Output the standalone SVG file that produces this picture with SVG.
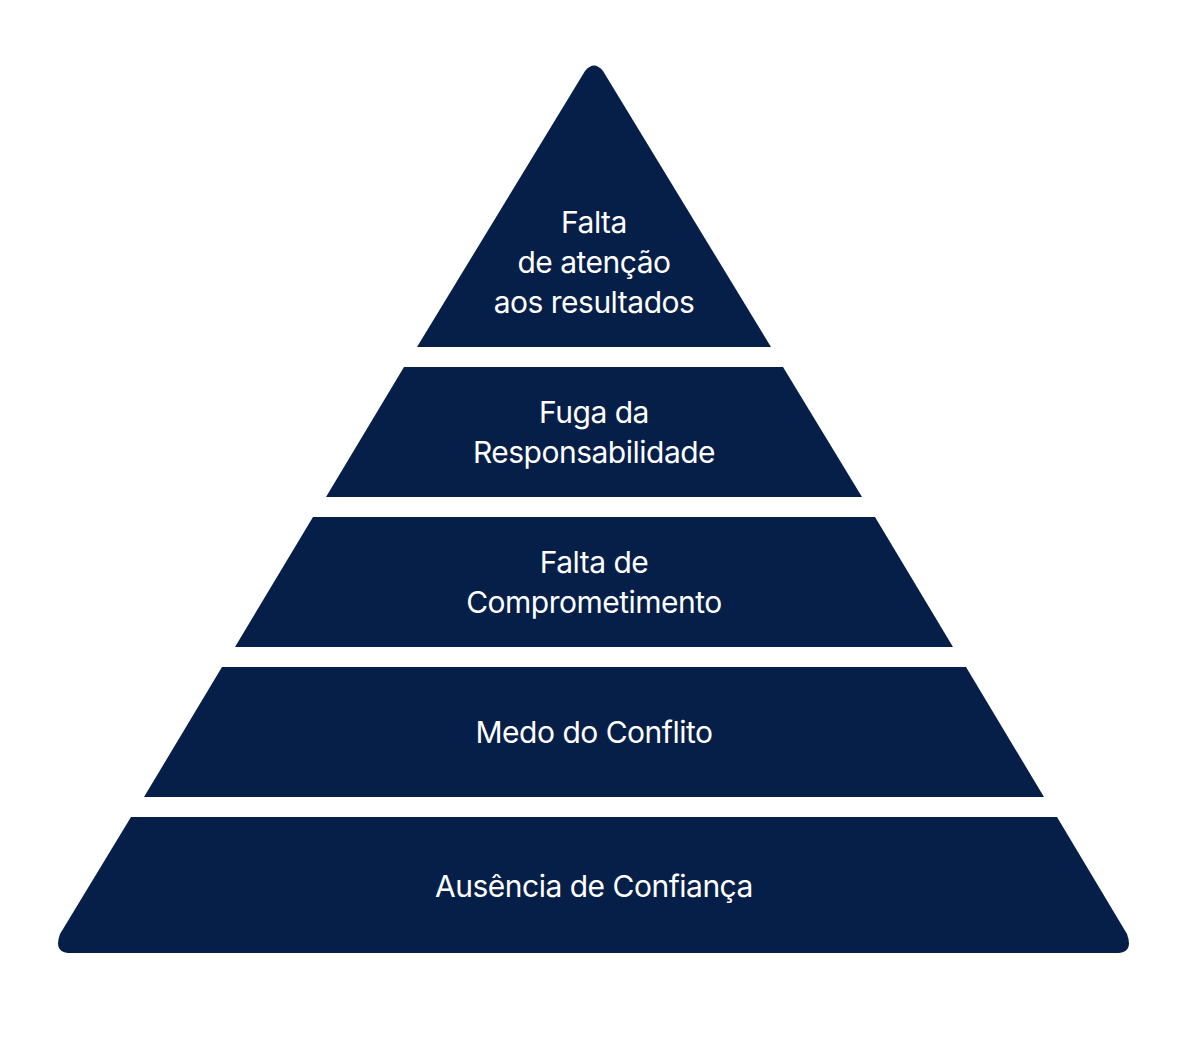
<svg xmlns="http://www.w3.org/2000/svg" width="1187" height="1048" viewBox="0 0 1187 1048">
<style>
.l{fill:#051f48}
.t{fill:#fff;font-family:Inter,"Liberation Sans",sans-serif;font-size:30px;text-anchor:middle;letter-spacing:-0.5px}
</style>
<rect width="1187" height="1048" fill="#fff"/>
<g id="level1"><path class="l" d="M417,347 L585,71 Q594,60 603,71 L771,347 Z"/>
<text class="t" x="594" y="233">Falta</text><text class="t" x="594" y="273">de atenção</text><text class="t" x="594" y="313">aos resultados</text></g>
<g id="level2"><path class="l" d="M404,367 L783,367 L862,497 L326,497 Z"/>
<text class="t" x="594" y="423">Fuga da</text><text class="t" x="594" y="463">Responsabilidade</text></g>
<g id="level3"><path class="l" d="M313,517 L875,517 L953,647 L235,647 Z"/>
<text class="t" x="594" y="573">Falta de</text><text class="t" x="594" y="613">Comprometimento</text></g>
<g id="level4"><path class="l" d="M222,667 L966,667 L1044,797 L144,797 Z"/>
<text class="t" x="594" y="743">Medo do Conflito</text></g>
<g id="level5"><path class="l" d="M131,817 L1057,817 L1127,934 Q1134,953 1116,953 L71,953 Q53,953 60,934 Z"/>
<text class="t" x="594" y="897">Ausência de Confiança</text></g>
<g id="connectors"></g>
</svg>
